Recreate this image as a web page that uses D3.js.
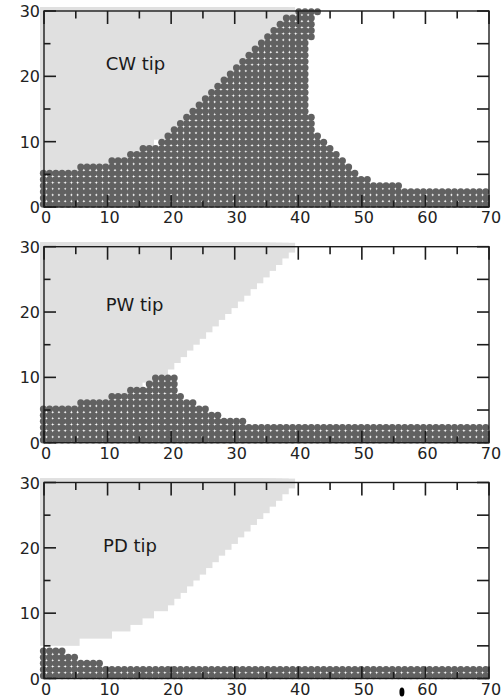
<!DOCTYPE html>
<html><head><meta charset="utf-8">
<script src="https://cdn.jsdelivr.net/npm/d3@7"></script>
<style>html,body{margin:0;padding:0;background:#fff;} svg{display:block;}</style>
</head><body>
<svg id="chart" width="504" height="697"></svg>
<script>
// ---------------- data ----------------
const panelLabels = ["CW tip", "PW tip", "PD tip"];
const xMajorTicks = [0, 10, 20, 30, 40, 50, 60, 70];
const xMinorTicks = [5, 15, 25, 35, 45, 55, 65];
const yMajorTicks = [0, 10, 20, 30];
const yMinorTicks = [5, 15, 25];

// light-grey wedge (staircase): for y >= wedgeY[k] the grey reaches x = wedgeX[k]
const wedgeX = [5.6, 10.7, 13.6, 15.5, 17.3, 19.5, 20.5, 21.5, 22.5, 23.5, 24.5, 25.5, 26.5, 27.5, 28.5, 29.5, 30.5, 31.5, 32.5, 33.5, 34.5, 35.5, 36.5, 37.5, 38.5, 39.5];
const wedgeY = [5.0, 6.1, 7.2, 8.2, 9.2, 10.3, 11.2, 12.2, 13.1, 14.1, 15.0, 15.9, 16.9, 17.8, 18.8, 19.7, 20.6, 21.6, 22.5, 23.5, 24.4, 25.3, 26.3, 27.2, 28.2, 29.1];

// dot rows (bottom row first): x-range of occupied lattice sites in each row
const cwRowStart = [0, 0, 0, 0, 0, 0, 6.05, 10.95, 14.05, 16.05, 18.25, 19.85, 20.8, 21.6, 22.6, 23.6, 24.6, 25.6, 26.6, 27.6, 28.6, 29.6, 30.6, 31.6, 32.6, 33.6, 34.6, 35.6, 36.6, 37.6, 38.6, 39.6];
const cwRowEnd   = [70, 70, 70, 56.0, 50.9, 48.9, 47.9, 46.9, 46.0, 45.0, 44.0, 43.0, 42.0, 42.0, 42.0, 41.0, 41.0, 41.0, 41.0, 41.0, 41.0, 41.0, 41.0, 41.0, 41.0, 41.0, 41.0, 42.0, 42.0, 42.0, 42.0, 43.0];

const pwRowStart = [0, 0, 0, 0, 0, 0, 6.05, 10.95, 14.05, 16.15, 17.95];
const pwRowEnd   = [70, 70, 70, 31.15, 27.15, 25.05, 22.95, 21.65, 20.85, 20.05, 20.05];

const pdRowStart = [0, 0, 0, 0, 0];
const pdRowEnd   = [70, 70, 9.05, 5.15, 3.05];

// ---------------- layout ----------------
const W = 504, H = 697;
const plotLeft = 44, plotRight = 489, plotH = 196;
const panelTops = [11, 246.7, 482.5];
const labelPos = [[9.7, 21.0], [9.7, 20.2], [9.3, 19.4]];
const latticeX0 = -0.1, latticeDX = 0.98, nCols = 72;
const latticeY0 = 0.42, latticeDY = 0.95;
const dotR = 3.5;
const dotColor = "#616161", wedgeColor = "#e0e0e0", axisColor = "#1c1c1c";
const tickColor = "#1c1c1c";
const FONT = "'DejaVu Sans', 'Liberation Sans', sans-serif";

const rowsData = [[cwRowStart, cwRowEnd], [pwRowStart, pwRowEnd], [pdRowStart, pdRowEnd]];

const svg = d3.select("#chart");
svg.append("rect").attr("width", W).attr("height", H).attr("fill", "#fff");

const x = d3.scaleLinear().domain([0, 70]).range([plotLeft, plotRight]);
const yScales = panelTops.map(t => d3.scaleLinear().domain([0, 30]).range([t + plotH, t]));

panelTops.forEach((pTop, p) => {
  const y = yScales[p];
  const pBottom = pTop + plotH;
  const g = svg.append("g");

  g.selectAll("rect.wedge").data(d3.range(wedgeX.length)).join("rect")
    .attr("class", "wedge")
    .attr("x", x(-0.6))
    .attr("y", y(30.6))
    .attr("width", k => x(wedgeX[k]) - x(-0.6))
    .attr("height", k => y(wedgeY[k]) - y(30.6))
    .attr("fill", wedgeColor);

  const [rs, re] = rowsData[p];
  const dots = [];
  rs.forEach((s, j) => {
    const yy = latticeY0 + latticeDY * j;
    for (let i = 0; i < nCols; i++) {
      const xx = latticeX0 + latticeDX * i;
      if (xx >= s - 0.49 && xx <= re[j] + 0.49) dots.push([xx, yy]);
    }
  });
  g.selectAll("circle.dot").data(dots).join("circle")
    .attr("class", "dot")
    .attr("cx", d => x(d[0]))
    .attr("cy", d => y(d[1]))
    .attr("r", dotR)
    .attr("fill", dotColor);

  g.append("text")
    .attr("x", x(labelPos[p][0]))
    .attr("y", y(labelPos[p][1]))
    .attr("fill", "#1a1a1a")
    .style("font-family", FONT).style("font-size", "18px")
    .text(panelLabels[p]);

  if (p === 2) {
    g.append("ellipse")
      .attr("cx", x(56.3)).attr("cy", pBottom + 13.5)
      .attr("rx", 2.5).attr("ry", 4.5).attr("fill", "#000");
  }

  g.append("rect")
    .attr("x", plotLeft).attr("y", pTop)
    .attr("width", plotRight - plotLeft).attr("height", plotH)
    .attr("fill", "none").attr("stroke", axisColor).attr("stroke-width", 1.4);

  g.selectAll("text.xlab").data(xMajorTicks).join("text").attr("class", "xlab")
    .attr("x", d => x(d) + 2).attr("y", pBottom + 16)
    .attr("text-anchor", "middle")
    .attr("fill", "#222").style("font-family", FONT).style("font-size", "16px")
    .text(d3.format("d"));
  g.selectAll("text.ylab").data(yMajorTicks).join("text").attr("class", "ylab")
    .attr("x", plotLeft - 4).attr("y", d => y(d) + 6)
    .attr("text-anchor", "end")
    .attr("fill", "#222").style("font-family", FONT).style("font-size", "16px")
    .text(d3.format("d"));
});

// ---- inward ticks, all panels, drawn last ----
const tickRecs = [];
panelTops.forEach((pTop, p) => {
  const y = yScales[p];
  const pBottom = pTop + plotH;
  xMajorTicks.forEach(v => {
    tickRecs.push({x1: x(v), x2: x(v), y1: pBottom, y2: pBottom - 12});
    tickRecs.push({x1: x(v), x2: x(v), y1: pTop, y2: pTop + 13});
  });
  xMinorTicks.forEach(v => {
    tickRecs.push({x1: x(v), x2: x(v), y1: pBottom, y2: pBottom - 6.5});
    tickRecs.push({x1: x(v), x2: x(v), y1: pTop, y2: pTop + 7.5});
  });
  yMajorTicks.forEach(v => {
    tickRecs.push({x1: plotLeft, x2: plotLeft + 12, y1: y(v), y2: y(v)});
    tickRecs.push({x1: plotRight, x2: plotRight - 12, y1: y(v), y2: y(v)});
  });
  yMinorTicks.forEach(v => {
    tickRecs.push({x1: plotLeft, x2: plotLeft + 6.5, y1: y(v), y2: y(v)});
    tickRecs.push({x1: plotRight, x2: plotRight - 12, y1: y(v), y2: y(v)});
  });
});
svg.selectAll("line.tick").data(tickRecs).join("line").attr("class", "tick")
  .attr("x1", d => d.x1).attr("x2", d => d.x2)
  .attr("y1", d => d.y1).attr("y2", d => d.y2)
  .attr("stroke", tickColor).attr("stroke-width", 1.6);
</script>
</body></html>
